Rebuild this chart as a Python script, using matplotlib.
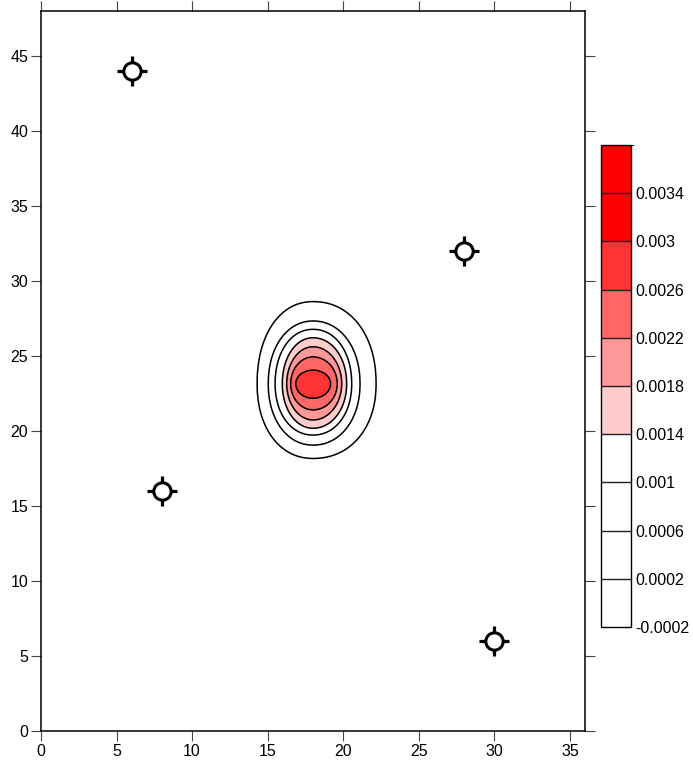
import numpy as np
import matplotlib
matplotlib.use("Agg")
import matplotlib.pyplot as plt
from matplotlib.colors import ListedColormap, BoundaryNorm

plt.rcParams['font.family'] = ['Liberation Sans', 'DejaVu Sans']

# ---- data ----
boundaries = [-0.0002, 0.0002, 0.0006, 0.001, 0.0014, 0.0018, 0.0022, 0.0026, 0.003, 0.0034, 0.0038]
band_colors = ['#FFFFFF', '#FFFFFF', '#FFFFFF', '#FFFFFF', '#FFCCCC', '#FF9999',
               '#FF6666', '#FF3333', '#FF0000', '#FF0000']
cbar_labels = ['-0.0002', '0.0002', '0.0006', '0.001', '0.0014', '0.0018',
               '0.0022', '0.0026', '0.003', '0.0034']

# contour levels seen in the plot and their extents (left/right/up/down)
# measured from the plume centre
plume_cx, plume_cy = 18.0, 23.15
contour_levels = [0.0002, 0.0006, 0.001, 0.0014, 0.0018, 0.0022, 0.0026]
contour_left = [3.69, 2.96, 2.51, 2.03, 1.74, 1.48, 1.15]
contour_right = [4.17, 3.11, 2.56, 2.23, 1.90, 1.61, 1.17]
contour_up = [5.47, 4.18, 3.63, 3.07, 2.47, 1.80, 0.91]
contour_down = [4.97, 4.09, 3.42, 2.97, 2.42, 1.75, 0.97]
contour_pow = [2.15, 2.1, 2.1, 2.05, 2.0, 2.0, 2.0]
peak_value = 0.0029

# station markers
station_x = [6, 28, 8, 30]
station_y = [44, 32, 16, 6]

xlim = (0, 36)
ylim = (0, 48)

# ---- field built from the read contours ----
gx = np.linspace(xlim[0], xlim[1], 721)
gy = np.linspace(ylim[0], ylim[1], 961)
X, Y = np.meshgrid(gx, gy)
DX = X - plume_cx
DY = Y - plume_cy


def norm_dist(i):
    p = contour_pow[i]
    a = np.where(DX >= 0, contour_right[i], contour_left[i])
    b = np.where(DY >= 0, contour_up[i], contour_down[i])
    return (np.abs(DX / a) ** p + np.abs(DY / b) ** p) ** (1.0 / p)


D = [norm_dist(i) for i in range(len(contour_levels))]
L = contour_levels
F = L[0] / np.maximum(D[0], 1e-9) ** 4
for i in range(len(L) - 1):
    m = (D[i] < 1)
    t = (1 - D[i]) / ((1 - D[i]) + np.maximum(D[i + 1] - 1, 0) + 1e-12)
    t = np.clip(t, 0, 1)
    F = np.where(m, L[i] + t * (L[i + 1] - L[i]), F)
mi = D[-1] < 1
F = np.where(mi, L[-1] + (peak_value - L[-1]) * (1 - D[-1] ** 2), F)

# ---- figure ----
fig = plt.figure(figsize=(6.93, 7.63), dpi=100)
ax = fig.add_axes([41 / 693, 32 / 763, 544 / 693, 720 / 763])

cmap = ListedColormap(band_colors)
norm = BoundaryNorm(boundaries, cmap.N)
cf = ax.contourf(X, Y, F, levels=boundaries, cmap=cmap, norm=norm)
ax.contour(X, Y, F, levels=boundaries[1:-1], colors='black', linewidths=1.1)

# station symbols
ax.plot(station_x, station_y, linestyle='none', marker='+', markersize=22,
        markeredgewidth=2.3, color='black', zorder=5)
ax.plot(station_x, station_y, linestyle='none', marker='o', markersize=12.5,
        markerfacecolor='white', markeredgecolor='black', markeredgewidth=2.2, zorder=6)

ax.set_xlim(*xlim)
ax.set_ylim(*ylim)
ax.set_xticks(np.arange(0, 36, 5))
ax.set_yticks(np.arange(0, 48, 5))
ax.tick_params(direction='out', length=7.2, width=0.8, color='#444444',
               top=True, right=True, labeltop=False, labelright=False,
               labelsize=11.5, pad=2)
for s in ax.spines.values():
    s.set_linewidth(1.1)
    s.set_color('black')

# colorbar
cax = fig.add_axes([601 / 693, (763 - 627) / 763, 30 / 693, 482 / 763])
cb = fig.colorbar(cf, cax=cax, ticks=boundaries[:-1])
cb.ax.set_yticklabels(cbar_labels)
cb.ax.tick_params(length=0, labelsize=11.5, pad=3)
for b in boundaries[1:-1]:
    cax.axhline(b, color='#222222', linewidth=1.0)
cb.outline.set_linewidth(1.0)
cb.outline.set_edgecolor('black')

fig.savefig('out.png', dpi=100)
